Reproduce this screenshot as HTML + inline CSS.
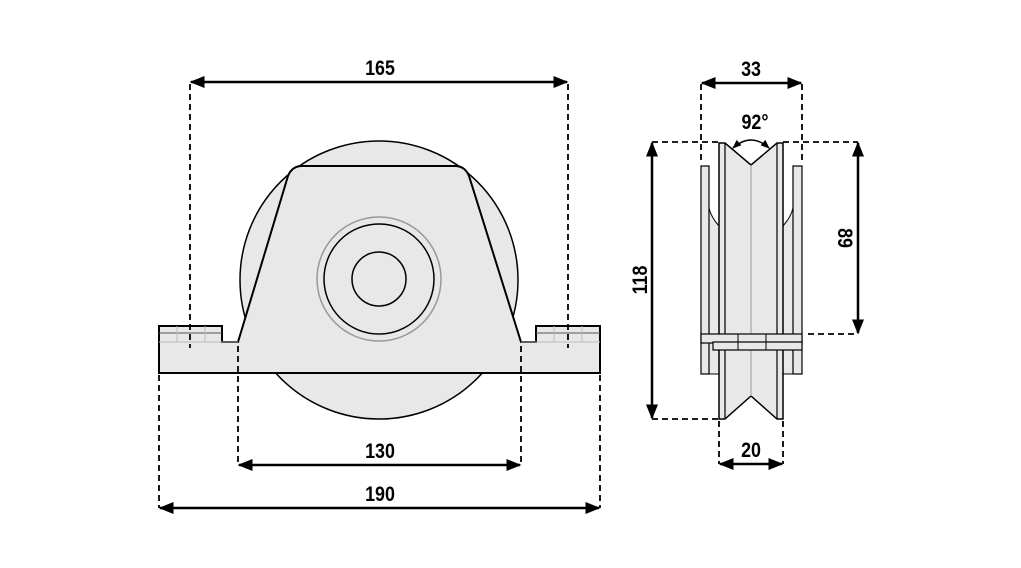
<!DOCTYPE html>
<html><head><meta charset="utf-8"><style>
html,body{margin:0;padding:0;background:#fff;width:1021px;height:568px;overflow:hidden}
text{font-family:"Liberation Sans",sans-serif;font-size:21px;font-weight:bold;fill:#000}
</style></head><body>
<svg width="1021" height="568" viewBox="0 0 1021 568" xmlns="http://www.w3.org/2000/svg">
<defs>
<marker id="a" viewBox="0 0 10 10" refX="9" refY="5" markerWidth="6" markerHeight="6" orient="auto-start-reverse"><path d="M0,1 L10,5 L0,9 z" fill="#000"/></marker>
</defs>
<g stroke="#000" fill="#e8e8e8">
<!-- front view -->
<circle cx="379" cy="280" r="139" stroke-width="1.5"/>
<path d="M159,326 H222 V342 H238 L288,176 Q292,166 302,166 H455 Q465,166 469,176 L521,342 H536 V326 H600 V373 H159 Z" stroke-width="2"/>
<line x1="159" y1="333" x2="222" y2="333" stroke="#555" stroke-width="1"/>
<line x1="159" y1="342" x2="238" y2="342" stroke="#bbb" stroke-width="1"/>
<line x1="536" y1="333" x2="600" y2="333" stroke="#555" stroke-width="1"/>
<line x1="521" y1="342" x2="600" y2="342" stroke="#bbb" stroke-width="1"/>
<g stroke="#bbb" stroke-width="1"><line x1="177" y1="326" x2="177" y2="342"/><line x1="205" y1="326" x2="205" y2="342"/><line x1="554" y1="326" x2="554" y2="342"/><line x1="582" y1="326" x2="582" y2="342"/></g>
<circle cx="379" cy="279" r="62" fill="none" stroke="#999" stroke-width="1.5"/>
<circle cx="379" cy="279" r="55" fill="none" stroke-width="1.5"/>
<circle cx="379" cy="279" r="27" fill="none" stroke-width="1.5"/>
<!-- side view -->
<path d="M709,208 Q711,217 719,226 V374 H709 Z" stroke-width="1"/>
<path d="M793,208 Q791,217 783,226 V374 H793 Z" stroke-width="1"/>
<rect x="701" y="166" width="8" height="208" stroke-width="1.2"/>
<rect x="793" y="166" width="9" height="208" stroke-width="1.2"/>
<path d="M719,143 H725 L751,165 L777,143 H783 V419 H777 L751,396 L725,419 H719 Z" stroke-width="1.5"/>
<line x1="725" y1="143" x2="725" y2="419" stroke-width="1.2"/>
<line x1="777" y1="143" x2="777" y2="419" stroke-width="1.2"/>
<line x1="751" y1="165" x2="751" y2="396" stroke="#999" stroke-width="1"/>
<rect x="701" y="334" width="101" height="9" stroke-width="1.2"/>
<rect x="713" y="342" width="89" height="8" stroke-width="1.2"/>
<line x1="738" y1="334" x2="738" y2="350" stroke-width="1"/>
<line x1="766" y1="334" x2="766" y2="350" stroke-width="1"/>
</g>
<!-- dashed -->
<g stroke="#000" stroke-width="1.8" stroke-dasharray="6,4" fill="none">
<line x1="190" y1="84" x2="190" y2="348"/><line x1="568" y1="84" x2="568" y2="348"/>
<line x1="238" y1="346" x2="238" y2="465"/><line x1="521" y1="346" x2="521" y2="465"/>
<line x1="159" y1="375" x2="159" y2="508"/><line x1="600" y1="375" x2="600" y2="508"/>
<line x1="701" y1="84" x2="701" y2="160"/><line x1="802" y1="84" x2="802" y2="160"/>
<line x1="652" y1="142" x2="719" y2="142"/><line x1="652" y1="419" x2="719" y2="419"/>
<line x1="783" y1="142" x2="858" y2="142"/><line x1="808" y1="334" x2="858" y2="334"/>
<line x1="719" y1="421" x2="719" y2="464"/><line x1="783" y1="421" x2="783" y2="464"/>
</g>
<!-- dimension lines -->
<g stroke="#000" stroke-width="2.5" marker-start="url(#a)" marker-end="url(#a)">
<line x1="191" y1="82" x2="567" y2="82"/>
<line x1="239" y1="465" x2="520" y2="465"/>
<line x1="160" y1="508" x2="599" y2="508"/>
<line x1="702" y1="83" x2="801" y2="83"/>
<line x1="652" y1="143" x2="652" y2="418"/>
<line x1="858" y1="143" x2="858" y2="333"/>
<line x1="720" y1="464" x2="782" y2="464"/>
</g>
<path d="M733,148 Q751,132 769,148" fill="none" stroke="#000" stroke-width="1.5" marker-start="url(#a)" marker-end="url(#a)"/>
<g text-anchor="middle">
<text transform="translate(380,75) scale(0.85,1)">165</text>
<text transform="translate(380,458) scale(0.85,1)">130</text>
<text transform="translate(380,501) scale(0.85,1)">190</text>
<text transform="translate(751,76) scale(0.85,1)">33</text>
<text transform="translate(755,129) scale(0.85,1)">92°</text>
<text transform="translate(751,457) scale(0.85,1)">20</text>
<text transform="translate(647,280) rotate(-90) scale(0.85,1)">118</text>
<text transform="translate(838,238) rotate(90) scale(0.85,1)">89</text>
</g>
</svg>
</body></html>
